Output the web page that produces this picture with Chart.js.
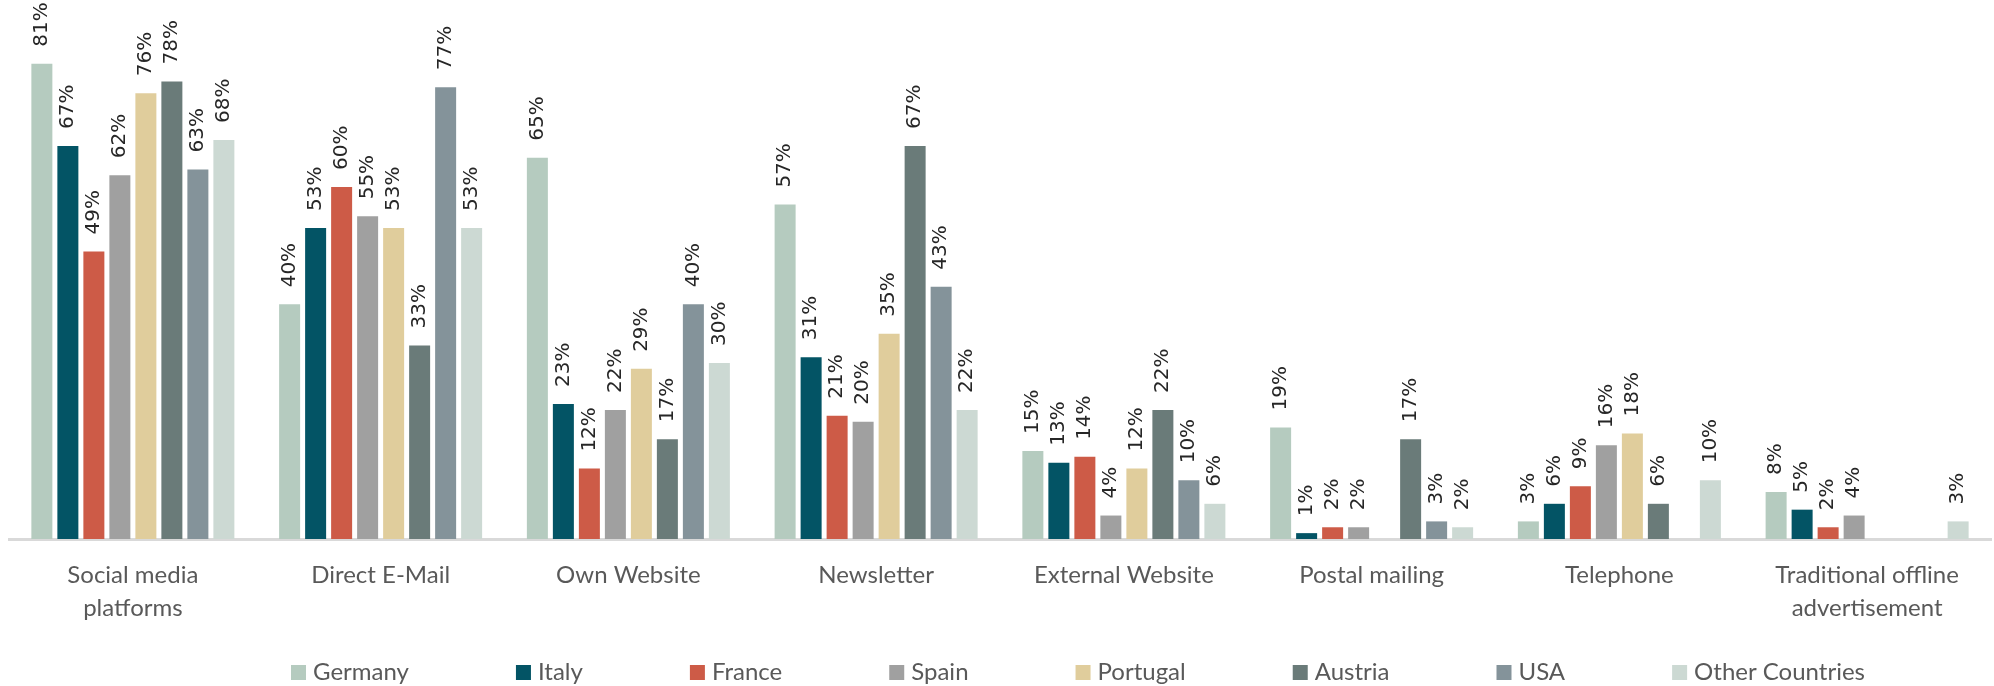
<!DOCTYPE html>
<html><head><meta charset="utf-8">
<script src="https://cdn.jsdelivr.net/npm/chart.js@4"></script>
<style>html,body{margin:0;padding:0;background:#fff;overflow:hidden}#wrap{width:1994px;height:686px;position:relative}</style>
</head><body><div id="wrap"><canvas id="c" width="1994" height="686"></canvas></div>
<script>
const categories = ['Social media platforms','Direct E-Mail','Own Website','Newsletter','External Website','Postal mailing','Telephone','Traditional offline advertisement'];
const tickLabels = [['Social media','platforms'],['Direct E-Mail'],['Own Website'],['Newsletter'],['External Website'],['Postal mailing'],['Telephone'],['Traditional offline','advertisement']];
const countries = ['Germany','Italy','France','Spain','Portugal','Austria','USA','Other Countries'];
const germany  = [81,40,65,57,15,19,3,8];
const italy    = [67,53,23,31,13,1,6,5];
const france   = [49,60,12,21,14,2,9,2];
const spain    = [62,55,22,20,4,2,16,4];
const portugal = [76,53,29,35,12,null,18,null];
const austria  = [78,33,17,67,22,17,6,null];
const usa      = [63,77,40,43,10,3,null,null];
const other    = [68,53,30,22,6,2,10,3];
const colors = ['#B5CBBF','#035465','#CD5B47','#A0A0A0','#E0CD9C','#6A7B79','#84939A','#CCD9D3'];
const seriesValues = [germany, italy, france, spain, portugal, austria, usa, other];

const LABEL_FONT = 'Lato';
const TEXT_GRAY = '#595959';

const valueLabels = {
  id: 'valueLabels',
  afterDatasetsDraw(chart) {
    const ctx = chart.ctx;
    ctx.save();
    ctx.font = '20px "DejaVu Sans"';
    ctx.fillStyle = '#262626';
    ctx.textAlign = 'left';
    ctx.textBaseline = 'middle';
    chart.data.datasets.forEach((ds, di) => {
      const meta = chart.getDatasetMeta(di);
      meta.data.forEach((el, i) => {
        const v = ds.data[i];
        if (v === null || v === undefined) return;
        ctx.save();
        ctx.translate(el.x, el.y - 17);
        ctx.rotate(-Math.PI / 2);
        ctx.fillText(v + '%', 0, 0);
        ctx.restore();
      });
    });
    ctx.restore();
  }
};

const bottomLegend = {
  id: 'bottomLegend',
  afterDraw(chart) {
    const ctx = chart.ctx;
    ctx.save();
    ctx.font = '24px ' + LABEL_FONT;
    const box = 15, gapText = 7;
    const ds = chart.data.datasets;
    const widths = ds.map(d => ctx.measureText(d.label).width);
    const startX = 291, endX = 1865;
    const total = widths.reduce((a, w) => a + box + gapText + w, 0);
    const gap = (endX - startX - total) / (widths.length - 1);
    let x = startX;
    const yc = 672.5;
    ctx.textBaseline = 'middle';
    ctx.textAlign = 'left';
    ds.forEach((d, i) => {
      ctx.fillStyle = d.backgroundColor;
      ctx.fillRect(x, yc - 7.5, box, box);
      ctx.fillStyle = TEXT_GRAY;
      ctx.fillText(d.label, x + box + gapText, yc);
      x += box + gapText + widths[i] + gap;
    });
    ctx.restore();
  }
};

function build() {
  new Chart(document.getElementById('c'), {
    type: 'bar',
    data: {
      labels: tickLabels,
      datasets: countries.map((name, i) => ({
        label: name,
        data: seriesValues[i],
        backgroundColor: colors[i],
        borderWidth: 0,
        categoryPercentage: 0.8396,
        barPercentage: 0.8077
      }))
    },
    options: {
      responsive: false,
      animation: false,
      devicePixelRatio: 1,
      layout: { padding: { top: 11, left: 9, right: 3, bottom: 0 } },
      plugins: { legend: { display: false }, tooltip: { enabled: false } },
      scales: {
        x: {
          grid: { display: false, drawTicks: false },
          border: { display: true, color: '#D9D9D9', width: 3 },
          ticks: {
            color: TEXT_GRAY,
            font: { family: LABEL_FONT, size: 24, lineHeight: 33 / 24 },
            padding: 20,
            maxRotation: 0,
            autoSkip: false
          },
          afterFit(scale) { scale.height = 686 - 539; }
        },
        y: { display: false, min: 0, max: 90 }
      }
    },
    plugins: [valueLabels, bottomLegend]
  });
}
if (document.fonts && document.fonts.load) {
  Promise.all([document.fonts.load('24px Lato'), document.fonts.load('20px "DejaVu Sans"')]).then(build, build);
} else { build(); }
</script>
</body></html>
